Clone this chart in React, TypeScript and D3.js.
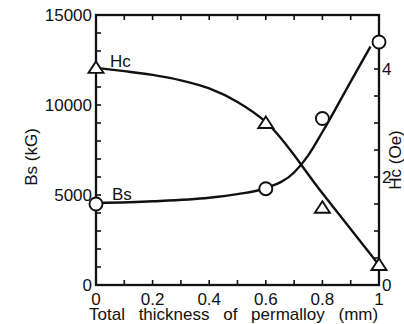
import React from "react";
import * as d3 from "d3";

// Measured points
const thickness = [0, 0.6, 0.8, 1.0];
const bsValues = [4500, 5350, 9250, 13500]; // kG (left axis)
const hcValues = [4.02, 3.0, 1.43, 0.37]; // Oe (right axis)

// Smooth guide curves
const bsCurveX = [0, 0.2, 0.4, 0.5, 0.6, 0.7, 0.75, 0.8, 0.9, 0.97];
const bsCurveY = [4550, 4650, 4850, 5050, 5380, 6250, 7200, 8500, 11300, 13250];
const hcCurveX = [0, 0.1, 0.2, 0.3, 0.4, 0.5, 0.6, 0.8, 1.0];
const hcCurveY = [4.02, 3.96, 3.89, 3.79, 3.64, 3.39, 3.02, 1.7, 0.37];

const xTickLabels = ["0", "0.2", "0.4", "0.6", "0.8", "1"];
const xTickValues = [0, 0.2, 0.4, 0.6, 0.8, 1];
const bsTickValues = [0, 5000, 10000, 15000];
const hcTickValues = [0, 2, 4];

const W = 404, H = 324;
const L = 96, R = 379, T = 15, B = 285;
const FONT = "Liberation Sans, Arial, sans-serif";

export default function App() {
  const x = d3.scaleLinear().domain([0, 1]).range([L, R]);
  const yBs = d3.scaleLinear().domain([0, 15000]).range([B, T]);
  const yHc = d3.scaleLinear().domain([0, 5]).range([B, T]);

  const bsLine = d3
    .line<number>()
    .x((_, i) => x(bsCurveX[i]))
    .y((d) => yBs(d))
    .curve(d3.curveMonotoneX);
  const hcLine = d3
    .line<number>()
    .x((_, i) => x(hcCurveX[i]))
    .y((d) => yHc(d))
    .curve(d3.curveMonotoneX);

  const xMinor = d3.range(0, 11).map((i) => i / 10);
  const bsMinor = d3.range(0, 16).map((i) => i * 1000);
  const hcMinor = d3.range(0, 11).map((i) => i * 0.5);
  const tk = 5;
  const tri = (cx: number, cy: number) =>
    `M${cx},${cy - 6.5}L${cx + 7.5},${cy + 5}L${cx - 7.5},${cy + 5}Z`;

  return (
    <svg
      width={W}
      height={H}
      style={{ position: "absolute", left: 0, top: 0, background: "#fff" }}
      fontFamily={FONT}
    >
      <rect x={0} y={0} width={W} height={H} fill="#fff" />
      {/* ticks */}
      <g stroke="#111" strokeWidth={1.6}>
        {xMinor.map((v) => (
          <g key={"x" + v}>
            <line x1={x(v)} x2={x(v)} y1={B} y2={B - tk} />
            <line x1={x(v)} x2={x(v)} y1={T} y2={T + tk} />
          </g>
        ))}
        {bsMinor.map((v) => (
          <line key={"b" + v} x1={L} x2={L + tk} y1={yBs(v)} y2={yBs(v)} />
        ))}
        {hcMinor.map((v) => (
          <line key={"h" + v} x1={R} x2={R - tk} y1={yHc(v)} y2={yHc(v)} />
        ))}
      </g>
      {/* frame */}
      <rect x={L} y={T} width={R - L} height={B - T} fill="none" stroke="#111" strokeWidth={2.3} />

      {/* curves */}
      <path d={hcLine(hcCurveY) || ""} fill="none" stroke="#111" strokeWidth={2.4} />
      <path d={bsLine(bsCurveY) || ""} fill="none" stroke="#111" strokeWidth={2.4} />

      {/* markers */}
      {thickness.map((t, i) => (
        <circle key={"c" + i} cx={x(t)} cy={yBs(bsValues[i])} r={6.5} fill="#fff" stroke="#111" strokeWidth={1.9} />
      ))}
      {thickness.map((t, i) => (
        <path key={"t" + i} d={tri(x(t), yHc(hcValues[i]))} fill="#fff" stroke="#111" strokeWidth={1.9} />
      ))}

      {/* tick labels */}
      <g fontSize={17} fill="#111">
        {xTickValues.map((v, i) => (
          <text key={"xl" + v} x={x(v)} y={305} textAnchor="middle">
            {xTickLabels[i]}
          </text>
        ))}
        {bsTickValues.map((v) => (
          <text key={"bl" + v} x={L - 4} y={yBs(v) + 6} textAnchor="end">
            {v}
          </text>
        ))}
        {hcTickValues.map((v) => (
          <text key={"hl" + v} x={R + 3} y={yHc(v) + 6} textAnchor="start">
            {v}
          </text>
        ))}
      </g>

      {/* series labels */}
      <text x={110} y={67} fontSize={17} fill="#111">Hc</text>
      <text x={112} y={200} fontSize={17} fill="#111">Bs</text>

      {/* axis titles */}
      <text x={89} y={320} fontSize={17} fill="#111" wordSpacing={9}>
        Total thickness of permalloy (mm)
      </text>
      <text
        transform="translate(37,157) rotate(-90)"
        textAnchor="middle"
        fontSize={17}
        fill="#111"
      >
        Bs (kG)
      </text>
      <text
        transform="translate(401,160) rotate(-90)"
        textAnchor="middle"
        fontSize={17}
        fill="#111"
      >
        Hc (Oe)
      </text>
    </svg>
  );
}
